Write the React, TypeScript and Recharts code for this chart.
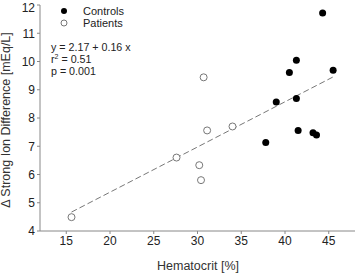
import { ScatterChart, Scatter, XAxis, YAxis, ReferenceLine } from "recharts";

const controlsHct = [44.3, 41.3, 40.5, 45.5, 39.0, 41.3, 41.5, 43.2, 43.6, 37.8];
const controlsSid = [11.72, 10.04, 9.61, 9.69, 8.57, 8.69, 7.56, 7.48, 7.4, 7.13];

const patientsHct = [15.6, 27.6, 30.2, 30.4, 30.7, 31.1, 34.0];
const patientsSid = [4.49, 6.6, 6.33, 5.8, 9.44, 7.56, 7.7];

const fitHct = [15.6, 45.6];
const fitSid = [4.67, 9.47];

const xTicks = [15, 20, 25, 30, 35, 40, 45];
const yTicks = [4, 5, 6, 7, 8, 9, 10, 11, 12];

const controls = controlsHct.map((x, i) => ({ x, y: controlsSid[i] }));
const patients = patientsHct.map((x, i) => ({ x, y: patientsSid[i] }));
const fit = fitHct.map((x, i) => ({ x, y: fitSid[i] }));

const font = "'Liberation Sans', Arial, sans-serif";
const tickStyle = { fill: "#222", fontSize: 12, fontFamily: font };

export default function App() {
  return (
    <div style={{ position: "relative", width: 358, height: 275, background: "#fff", fontFamily: font }}>
      <style>{"body{margin:0}"}</style>
      <ScatterChart width={358} height={275} margin={{ top: 5, right: 3, bottom: 14, left: 10 }}>
        <XAxis
          type="number"
          dataKey="x"
          domain={[12, 48]}
          ticks={xTicks}
          tick={tickStyle}
          tickSize={3}
          height={30}
          stroke="#888"
        />
        <YAxis
          type="number"
          dataKey="y"
          domain={[4, 12]}
          ticks={yTicks}
          tick={tickStyle}
          tickSize={3}
          width={30}
          stroke="#888"
        />
        <ReferenceLine
          segment={[fit[0], fit[1]]}
          stroke="#777"
          strokeDasharray="6 3"
          strokeWidth={1}
          ifOverflow="visible"
        />
        <Scatter data={controls} fill="#000" isAnimationActive={false}
          shape={(p: any) => <circle cx={p.cx} cy={p.cy} r={3.5} fill="#000" />} />
        <Scatter data={patients} fill="#fff" isAnimationActive={false}
          shape={(p: any) => <circle cx={p.cx} cy={p.cy} r={3.5} fill="#fff" stroke="#777" strokeWidth={1} />} />
      </ScatterChart>
      <svg width={358} height={275} style={{ position: "absolute", left: 0, top: 0, pointerEvents: "none" }}>
        <text x={198} y={270} textAnchor="middle" fontSize={12.5} fontFamily={font} fill="#333">Hematocrit [%]</text>
        <text transform="translate(10,120) rotate(-90)" textAnchor="middle" fontSize={12.5} fontFamily={font} fill="#333">
          Δ Strong Ion Difference [mEq/L]
        </text>
        <circle cx={64} cy={11} r={3} fill="#000" />
        <circle cx={64} cy={23} r={3} fill="#fff" stroke="#777" />
        <text x={83} y={15} fontSize={11} fontFamily={font} fill="#222">Controls</text>
        <text x={83} y={27} fontSize={11} fontFamily={font} fill="#222">Patients</text>
        <text x={51} y={51} fontSize={10.7} fontFamily={font} fill="#222">y = 2.17 + 0.16 x</text>
        <text x={51} y={63} fontSize={10.7} fontFamily={font} fill="#222">
          r<tspan dy={-4} fontSize={7}>2</tspan><tspan dy={4}> = 0.51</tspan>
        </text>
        <text x={51} y={75} fontSize={10.7} fontFamily={font} fill="#222">p = 0.001</text>
      </svg>
    </div>
  );
}
